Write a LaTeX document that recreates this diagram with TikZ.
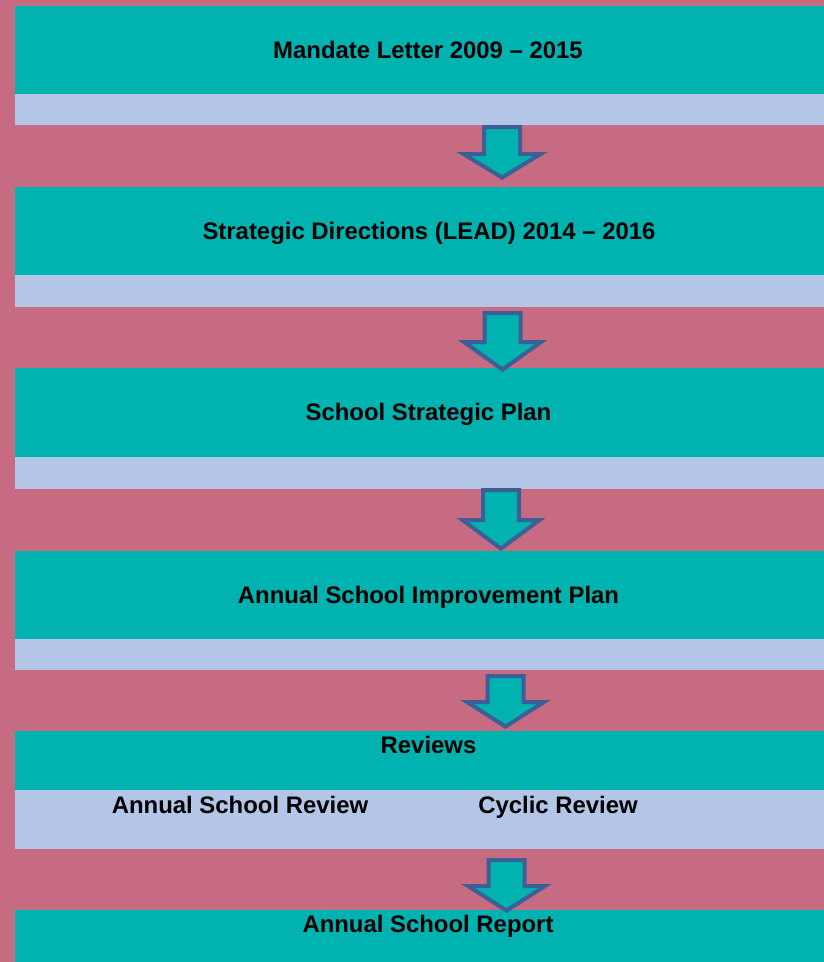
\documentclass[tikz,border=0pt]{standalone}
\usepackage{fontspec}
\setmainfont{Liberation Sans}
\definecolor{bgpink}{RGB}{199,107,130}
\definecolor{boxteal}{RGB}{0,178,176}
\definecolor{stripblue}{RGB}{180,198,231}
\definecolor{arrowline}{RGB}{60,95,150}
\tikzset{
	stagetext/.style={font=\fontsize{23.9}{28}\selectfont\bfseries, anchor=base, inner sep=0pt},
	blockarrow/.style={draw=arrowline, fill=boxteal, line width=4pt}
}
\begin{document}
\begin{tikzpicture}[x=1pt, y=-1pt]
		\useasboundingbox (0,0) rectangle (824,962);
		%background
		\fill[bgpink] (0,0) rectangle (824,962);
		
		%stages: teal top, blue bottom
		\foreach \ta/\tb/\tc in {6/94/125, 187/275/307, 368/457/489, 551/639/670, 731/790/849}{
			\fill[boxteal] (15,\ta) rectangle (824,\tb);
			\fill[stripblue] (15,\tb) rectangle (824,\tc);
		}
		\fill[boxteal] (15,910) rectangle (824,962);
		
		%arrows between stages
		\foreach \cx/\ya/\yb/\yc in {502/125/152/180, 502.5/311/340/372, 501/488/518/551, 505.5/674/700/729, 506.5/858/884/913}{
			\draw[blockarrow] (\cx-18,\ya+2) -- (\cx+18,\ya+2) -- (\cx+18,\yb+2)
				-- (\cx+38.5,\yb+2) -- (\cx,\yc-2.4) -- (\cx-38.5,\yb+2) -- (\cx-18,\yb+2) -- cycle;
		}
		
		%texts
		\node[stagetext] (mandate) at (428,58){Mandate Letter 2009 -- 2015};
		\node[stagetext] (strategic) at (429,239.5){Strategic Directions (LEAD) 2014 -- 2016};
		\node[stagetext] (schoolplan) at (428.5,420.5){School Strategic Plan};
		\node[stagetext] (improvement) at (428.5,603.5){Annual School Improvement Plan};
		\node[stagetext] (reviews) at (428.5,753.5){Reviews};
		\node[stagetext] (annualreview) at (240,813){Annual School Review};
		\node[stagetext] (cyclic) at (558,813){Cyclic Review};
		\node[stagetext] (report) at (428,932){Annual School Report};
\end{tikzpicture}
\end{document}
